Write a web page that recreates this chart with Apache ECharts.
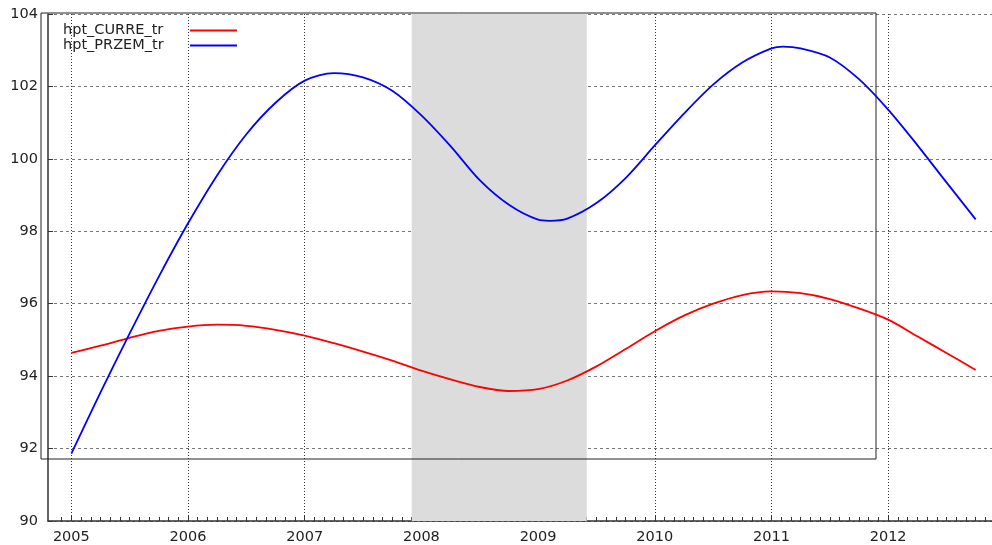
<!DOCTYPE html>
<html>
<head>
<meta charset="utf-8">
<script src="https://cdn.jsdelivr.net/npm/echarts@6/dist/echarts.min.js"></script>
<style>
  html, body { margin: 0; padding: 0; background: #fff; }
  #chart { width: 992px; height: 545px; }
</style>
</head>
<body>
<div id="chart"></div>
<script>
// quarterly readings (decimal years), plus turning points
const curreYears = [
  2005.0, 2005.25, 2005.5, 2005.75, 2006.0, 2006.25, 2006.5, 2006.75,
  2007.0, 2007.25, 2007.5, 2007.75, 2008.0, 2008.25, 2008.5, 2008.75,
  2009.0, 2009.25, 2009.5, 2009.75, 2010.0, 2010.25, 2010.5, 2010.75,
  2011.0, 2011.25, 2011.5, 2011.75, 2012.0, 2012.25, 2012.5, 2012.75
];
const curreVals = [
  94.64, 94.84, 95.06, 95.25, 95.37, 95.42, 95.39, 95.28,
  95.12, 94.91, 94.68, 94.43, 94.15, 93.91, 93.70, 93.59,
  93.64, 93.88, 94.27, 94.75, 95.24, 95.67, 96.00, 96.24,
  96.34, 96.29, 96.13, 95.87, 95.56, 95.10, 94.64, 94.17
];
const przemYears = [
  2005.0, 2005.25, 2005.5, 2005.75, 2006.0, 2006.25, 2006.5, 2006.75,
  2007.0, 2007.25, 2007.5, 2007.75, 2008.0, 2008.25, 2008.5, 2008.75,
  2009.0, 2009.1, 2009.25, 2009.5, 2009.75, 2010.0, 2010.25, 2010.5, 2010.75,
  2011.0, 2011.1, 2011.25, 2011.5, 2011.75, 2012.0, 2012.25, 2012.5, 2012.75
];
const przemVals = [
  91.86, 93.55, 95.18, 96.75, 98.22, 99.55, 100.68, 101.55,
  102.16, 102.37, 102.25, 101.88, 101.20, 100.35, 99.41, 98.73,
  98.32, 98.29, 98.35, 98.78, 99.47, 100.37, 101.25, 102.05, 102.66,
  103.05, 103.10, 103.05, 102.80, 102.20, 101.36, 100.38, 99.35, 98.33
];
const yearTicks = [2005, 2006, 2007, 2008, 2009, 2010, 2011, 2012];
const recession = [2007.917, 2009.417];
const seriesNames = ['hpt_CURRE_tr', 'hpt_PRZEM_tr'];

// monthly minor ticks
const monthTicks = [];
for (let m = 1; m < 12 * 8 + 11; m++) {
  const v = 2004 + 10 / 12 + m / 12;
  if (v > 2004.8 && v < 2012.89) monthTicks.push(+v.toFixed(4));
}

const font = 'DejaVu Sans';
const xMin = 2004.8, xMax = 2012.89;

const chart = echarts.init(document.getElementById('chart'));
chart.setOption({
  animation: false,
  grid: { left: 48, right: 0, top: 14, bottom: 22 },
  legend: {
    data: seriesNames,
    orient: 'vertical',
    left: 58,
    top: 18,
    align: 'right',
    itemGap: 0,
    itemWidth: 47,
    itemHeight: 2,
    icon: 'rect',
    formatter: name => '{a|' + name + '}',
    textStyle: {
      rich: {
        a: { fontFamily: font, fontSize: 14.5, color: '#222', width: 122, align: 'left', lineHeight: 17 }
      }
    }
  },
  xAxis: [
    {
      type: 'value',
      min: xMin,
      max: xMax,
      axisLine: { lineStyle: { color: '#333', width: 1.5 } },
      axisTick: { customValues: yearTicks, inside: true, length: 6, lineStyle: { color: '#333' } },
      axisLabel: {
        customValues: yearTicks,
        fontFamily: font, fontSize: 14.5, color: '#222', margin: 9,
        formatter: v => String(v)
      },
      splitLine: { show: true, lineStyle: { color: '#333', type: [1, 2], width: 1 } }
    },
    {
      type: 'value',
      min: xMin,
      max: xMax,
      position: 'bottom',
      axisLine: { show: false },
      axisLabel: { show: false },
      splitLine: { show: false },
      axisTick: { customValues: monthTicks, inside: true, length: 4, lineStyle: { color: '#333' } }
    }
  ],
  yAxis: {
    type: 'value',
    min: 90,
    max: 104,
    interval: 2,
    axisLine: { show: true, lineStyle: { color: '#333', width: 1.5 } },
    axisTick: { show: true, inside: true, length: 5, lineStyle: { color: '#333' } },
    axisLabel: { fontFamily: font, fontSize: 14.5, color: '#222', margin: 10 },
    splitLine: { show: true, lineStyle: { color: '#777', type: [3, 3], width: 1 } }
  },
  graphic: [
    {
      type: 'rect',
      z: 2,
      silent: true,
      shape: { x: 41, y: 13, width: 835, height: 446 },
      style: { fill: 'none', stroke: '#222', lineWidth: 1 }
    }
  ],
  series: [
    {
      type: 'line',
      name: 'recession',
      z: 1,
      silent: true,
      data: [],
      markArea: {
        silent: true,
        itemStyle: { color: '#dcdcdc' },
        data: [[{ xAxis: recession[0] }, { xAxis: recession[1] }]]
      }
    },
    {
      type: 'line',
      name: seriesNames[0],
      z: 3,
      showSymbol: false,
      smooth: 0.3,
      color: '#ff0000',
      lineStyle: { width: 1.8, color: '#ff0000' },
      data: curreYears.map((p, i) => [p, curreVals[i]])
    },
    {
      type: 'line',
      name: seriesNames[1],
      z: 3,
      showSymbol: false,
      smooth: 0.3,
      color: '#0000ff',
      lineStyle: { width: 1.8, color: '#0000ff' },
      data: przemYears.map((p, i) => [p, przemVals[i]])
    }
  ]
});
</script>
</body>
</html>
